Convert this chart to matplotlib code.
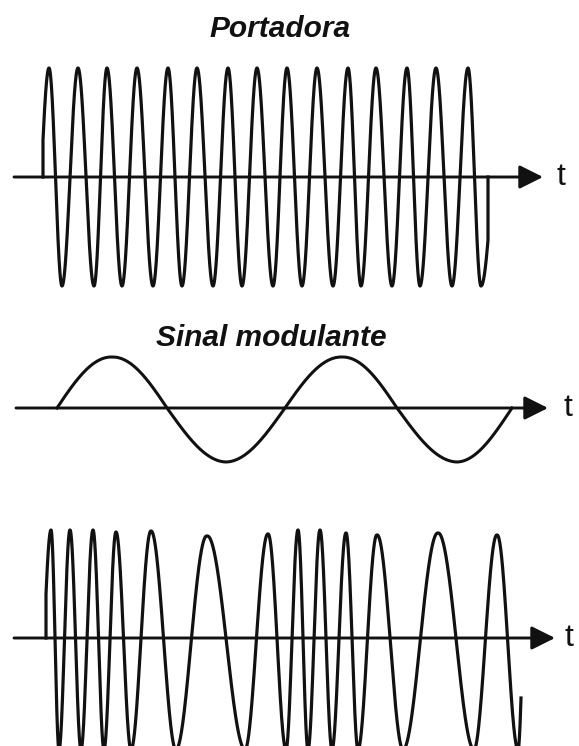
import numpy as np
import matplotlib
matplotlib.use("Agg")
import matplotlib.pyplot as plt

# ---------------- data (pixel units) ----------------
titles = ["Portadora", "Sinal modulante"]
axis_label = "t"

# Carrier (Portadora)
carrier_center = 177
carrier_peak_y = 68
carrier_trough_y = 286
carrier_peaks_x = [49, 78, 107, 137, 168, 197, 228, 257, 287, 317, 348, 376, 407, 436, 468]
carrier_troughs_x = [62, 94, 122, 153, 182, 213, 242, 273, 302, 333, 361, 392, 420, 452, 481]
carrier_start = (43, 140)   # x, y where the trace leaves the axis
carrier_end = (488, 240)    # x, y where the trace returns to the axis

# Modulating signal (Sinal modulante)
mod_center = 408
mod_zeros_x = [57, 167, 285, 397, 512]
mod_peaks_x = [112, 342]
mod_troughs_x = [226, 457]
mod_peak_y = 357
mod_trough_y = 462

# FM signal
fm_center = 638
fm_peaks_x = [51, 70, 93, 116, 151, 207, 268, 298, 320, 346, 377, 438, 497]
fm_peaks_y = [530, 530, 530, 532, 531, 536, 534, 530, 530, 533, 535, 533, 535]
fm_troughs_x = [59, 81, 104, 131, 176, 245, 286, 308, 332, 358, 403, 474, 518]
fm_trough_y = 750
fm_start = (46, 594)
fm_end = (521, 698)

# axis lines: (x start, arrow tip x, y)
axes_lines = [(14, 543, carrier_center), (16, 548, mod_center), (14, 555, fm_center)]
label_x = [561, 568, 569]

W, H = 579, 746
INK = "#111111"


def trace(xs, phases, amps, center, n=4000):
    x = np.linspace(xs[0], xs[-1], n)
    ph = np.interp(x, xs, phases)
    a = np.interp(x, xs, amps)
    return x, center - a * np.sin(ph)


def alternating_keys(center, peaks_x, peaks_y, troughs_x, troughs_y, start, end):
    keys = [(px, 'p', center - py) for px, py in zip(peaks_x, peaks_y)]
    keys += [(tx, 't', ty - center) for tx, ty in zip(troughs_x, troughs_y)]
    keys.sort()
    xs, phs, amps = [], [], []
    k = 0
    for x, kind, a in keys:
        if kind == 'p':
            ph = np.pi / 2 + 2 * np.pi * k
        else:
            ph = 3 * np.pi / 2 + 2 * np.pi * k
            k += 1
        xs.append(x); phs.append(ph); amps.append(a)
    s_amp = amps[0]
    s_ph = np.arcsin(np.clip((center - start[1]) / s_amp, -1, 1))
    e_amp = amps[-1]
    e_ph = 2 * np.pi * k + np.arcsin(np.clip((center - end[1]) / e_amp, -1, 1))
    xs = [start[0]] + xs + [end[0]]
    phs = [s_ph] + phs + [e_ph]
    amps = [s_amp] + amps + [e_amp]
    return xs, phs, amps


fig = plt.figure(figsize=(W / 100, H / 100), dpi=100)
ax = fig.add_axes([0, 0, 1, 1])
ax.set_xlim(0, W)
ax.set_ylim(H, 0)
ax.axis("off")

lw = 2.3

# axis lines with arrows
for (x0, tip, y), lx in zip(axes_lines, label_x):
    ax.annotate("", xy=(tip, y), xytext=(x0, y),
                arrowprops=dict(arrowstyle="-|>,head_length=0.8,head_width=0.4",
                                color=INK, lw=2.1, mutation_scale=18,
                                shrinkA=0, shrinkB=0))
    ax.text(lx, y, axis_label, ha="center", va="center", fontsize=23,
            family="Liberation Sans", color=INK)

# carrier
xs, phs, amps = alternating_keys(carrier_center, carrier_peaks_x,
                                 [carrier_peak_y] * len(carrier_peaks_x),
                                 carrier_troughs_x,
                                 [carrier_trough_y] * len(carrier_troughs_x),
                                 carrier_start, carrier_end)
x, y = trace(xs, phs, amps, carrier_center)
x = np.concatenate([[carrier_start[0]], x, [carrier_end[0]]])
y = np.concatenate([[carrier_center], y, [carrier_center]])
ax.plot(x, y, color=INK, lw=lw, solid_joinstyle="round")

# modulating signal
mkeys = [(zx, i * np.pi) for i, zx in enumerate(mod_zeros_x)]
mkeys += [(px, np.pi / 2 + 2 * np.pi * i) for i, px in enumerate(mod_peaks_x)]
mkeys += [(tx, 3 * np.pi / 2 + 2 * np.pi * i) for i, tx in enumerate(mod_troughs_x)]
mkeys.sort()
mod_amp_up = mod_center - mod_peak_y
mod_amp_dn = mod_trough_y - mod_center
m_amps = []
for mx, mph in mkeys:
    s = np.sin(mph)
    m_amps.append(mod_amp_up if s > 0.5 else (mod_amp_dn if s < -0.5 else (mod_amp_up + mod_amp_dn) / 2))
x, y = trace([k[0] for k in mkeys], [k[1] for k in mkeys], m_amps, mod_center)
ax.plot(x, y, color=INK, lw=lw * 0.95)

# FM signal
xs, phs, amps = alternating_keys(fm_center, fm_peaks_x, fm_peaks_y,
                                 fm_troughs_x, [fm_trough_y] * len(fm_troughs_x),
                                 fm_start, fm_end)
x, y = trace(xs, phs, amps, fm_center)
x = np.concatenate([[fm_start[0]], x])
y = np.concatenate([[fm_center], y])
ax.plot(x, y, color=INK, lw=lw, solid_joinstyle="round")

# titles
ax.text(280, 37, titles[0], ha="center", va="baseline", fontsize=21.5,
        family="Liberation Sans", weight="bold", style="italic", color=INK)
ax.text(271, 346, titles[1], ha="center", va="baseline", fontsize=21.5,
        family="Liberation Sans", weight="bold", style="italic", color=INK)

fig.savefig("out.png", dpi=100, facecolor="white")
